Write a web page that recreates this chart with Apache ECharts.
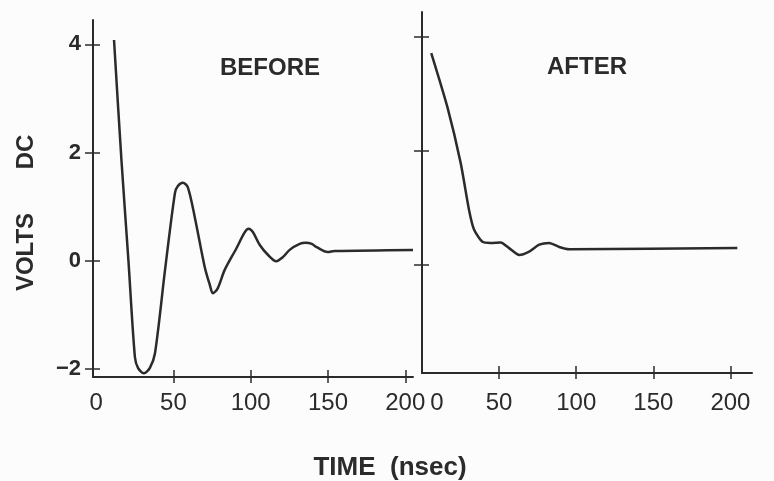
<!DOCTYPE html>
<html>
<head>
<meta charset="utf-8">
<script src="https://cdn.jsdelivr.net/npm/echarts@6/dist/echarts.min.js"></script>
<style>
  html, body { margin: 0; padding: 0; background: #fcfcfc; }
  #chart { width: 774px; height: 481px; }
</style>
</head>
<body>
<div id="chart"></div>
<script>
// readings, time in nsec, volts DC
var beforeTime = [11.6, 16.4, 20.9, 25.1, 27.1, 30.9, 34.8, 38.1, 44.6, 51.0, 52.9, 56.1, 59.3, 63.8, 70.3, 73.6, 75.5, 78.5, 83.2, 90.8, 96.0, 98.7, 101.4, 105.9, 111.1, 116.5, 121.0, 125.2, 131.7, 135.6, 139.5, 142.7, 149.8, 154.3, 205];
var beforeVolts = [4.08, 1.86, 0.01, -1.78, -1.98, -2.08, -1.98, -1.71, -0.17, 1.25, 1.38, 1.44, 1.36, 0.81, -0.12, -0.45, -0.60, -0.52, -0.17, 0.23, 0.52, 0.59, 0.53, 0.29, 0.11, -0.01, 0.07, 0.20, 0.31, 0.33, 0.31, 0.25, 0.16, 0.18, 0.20];

var afterTime = [6.0, 16.4, 25.1, 30.5, 33.8, 39.2, 44.6, 51.1, 56.5, 63.0, 69.5, 76.0, 82.5, 89.0, 95.5, 204.5];
var afterVolts = [3.72, 2.78, 1.79, 0.97, 0.62, 0.41, 0.39, 0.40, 0.30, 0.18, 0.24, 0.36, 0.39, 0.32, 0.28, 0.30];

var xTicks = [50, 100, 150, 200];
var xLabels = [0, 50, 100, 150, 200];
var yTicksLeft = [-2, 0, 2, 4];
var yTicksRight = [0, 2, 4];

var ink = '#2b2b2b';
var font = 'Liberation Sans';

function pairs(xs, ys) {
    return xs.map(function (x, i) { return [x, ys[i]]; });
}

// main axis plus an overlay axis so every tick is drawn as a cross
function xAxes(grid, min, max, shiftZero, margin) {
    return [
        {
            type: 'value', gridIndex: grid, position: 'bottom', min: min, max: max,
            splitLine: { show: false },
            axisLine: { onZero: false, lineStyle: { color: ink, width: 2 } },
            axisTick: { customValues: xTicks, length: 6, lineStyle: { color: ink, width: 1.5 } },
            axisLabel: {
                customValues: xLabels, margin: margin, fontSize: 24, color: ink, fontFamily: font,
                formatter: function (v) { return (shiftZero && v === 0) ? '{z|0}' : String(v); },
                rich: { z: { fontSize: 24, color: ink, fontFamily: font, padding: [0, 0, 0, 30] } }
            }
        },
        {
            type: 'value', gridIndex: grid, position: 'bottom', min: min, max: max,
            splitLine: { show: false }, axisLine: { show: false, onZero: false }, axisLabel: { show: false },
            axisTick: { customValues: xTicks, inside: true, length: 7, lineStyle: { color: ink, width: 1.5 } }
        }
    ];
}

function yAxes(grid, min, max, ticks, labels) {
    return [
        {
            type: 'value', gridIndex: grid, position: 'left', min: min, max: max,
            splitLine: { show: false },
            axisLine: { onZero: false, lineStyle: { color: ink, width: 2 } },
            axisTick: { customValues: ticks, length: 8, lineStyle: { color: ink, width: 1.5 } },
            axisLabel: {
                show: labels, customValues: ticks, margin: 12, fontSize: 22, fontWeight: 'bold',
                color: ink, fontFamily: font,
                formatter: function (v) { return v < 0 ? '\u2212' + (-v) : String(v); }
            }
        },
        {
            type: 'value', gridIndex: grid, position: 'left', min: min, max: max,
            splitLine: { show: false }, axisLine: { show: false, onZero: false }, axisLabel: { show: false },
            axisTick: { customValues: ticks, inside: true, length: 7, lineStyle: { color: ink, width: 1.5 } }
        }
    ];
}

var chart = echarts.init(document.getElementById('chart'));

var option = {
    animation: false,
    backgroundColor: '#fcfcfc',
    grid: [
        { left: 93, top: 20, width: 320, height: 357 },
        { left: 422, top: 12, width: 330, height: 361 }
    ],
    xAxis: xAxes(0, -2, 205, false, 14).concat(xAxes(1, 0, 214, true, 18)),
    yAxis: yAxes(0, -2.15, 4.45, yTicksLeft, true).concat(yAxes(1, -1.89, 4.44, yTicksRight, false)),
    graphic: [
        { type: 'text', x: 270, y: 68, style: { text: 'BEFORE', fontSize: 24, fontWeight: 'bold', fill: ink, fontFamily: font, align: 'center', verticalAlign: 'middle' } },
        { type: 'text', x: 587, y: 67, style: { text: 'AFTER', fontSize: 24, fontWeight: 'bold', fill: ink, fontFamily: font, align: 'center', verticalAlign: 'middle' } },
        { type: 'text', x: 26, y: 252, rotation: Math.PI / 2, style: { text: 'VOLTS', fontSize: 24, fontWeight: 'bold', fill: ink, fontFamily: font, align: 'center', verticalAlign: 'middle' } },
        { type: 'text', x: 26, y: 152, rotation: Math.PI / 2, style: { text: 'DC', fontSize: 24, fontWeight: 'bold', fill: ink, fontFamily: font, align: 'center', verticalAlign: 'middle' } },
        { type: 'text', x: 390, y: 468, style: { text: 'TIME  (nsec)', fontSize: 26, fontWeight: 'bold', fill: ink, fontFamily: font, align: 'center', verticalAlign: 'middle' } }
    ],
    series: [
        {
            type: 'line', xAxisIndex: 0, yAxisIndex: 0,
            data: pairs(beforeTime, beforeVolts),
            showSymbol: false, smooth: 0.3,
            lineStyle: { color: ink, width: 2.5 }
        },
        {
            type: 'line', xAxisIndex: 2, yAxisIndex: 2,
            data: pairs(afterTime, afterVolts),
            showSymbol: false, smooth: 0.2,
            lineStyle: { color: ink, width: 2.5 }
        }
    ]
};

chart.setOption(option);
</script>
</body>
</html>
